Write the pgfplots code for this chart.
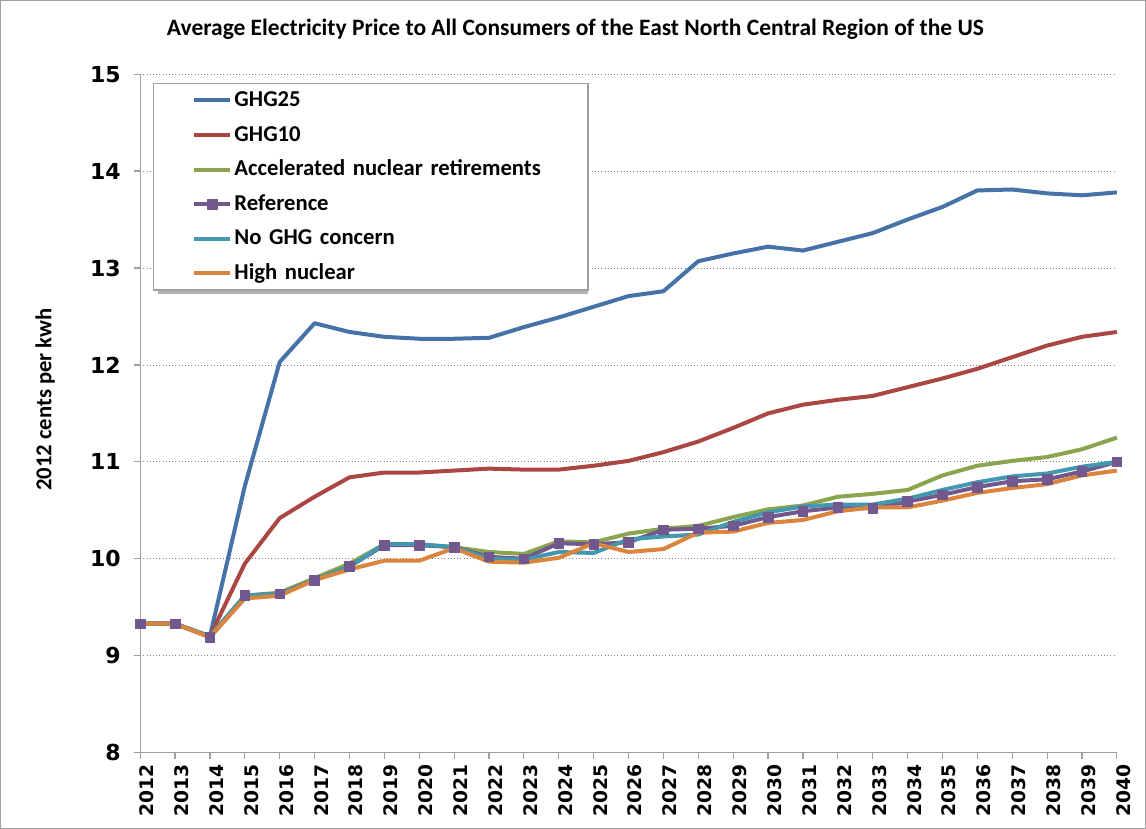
\documentclass[border=0pt]{standalone}
\usepackage{fontspec}
\usepackage{pgfplots}
\pgfplotsset{compat=1.18}
\newfontfamily\calibri{Carlito}
\newfontfamily\verd{DejaVu Sans}
\definecolor{cblue}{RGB}{69,114,167}
\definecolor{cred}{RGB}{170,70,67}
\definecolor{cgreen}{RGB}{137,165,78}
\definecolor{cpurple}{RGB}{113,88,143}
\definecolor{cteal}{RGB}{65,152,175}
\definecolor{corange}{RGB}{219,132,61}
\definecolor{frame}{RGB}{160,160,160}

\pgfplotstableread{
year ghg25 ghg10 accel ref noghg high
2012 9.33 9.33 9.33 9.33 9.33 9.33
2013 9.33 9.33 9.33 9.33 9.33 9.33
2014 9.20 9.20 9.20 9.19 9.20 9.19
2015 10.75 9.95 9.62 9.62 9.62 9.59
2016 12.03 10.42 9.65 9.64 9.64 9.62
2017 12.43 10.64 9.80 9.78 9.78 9.78
2018 12.34 10.84 9.95 9.92 9.92 9.89
2019 12.29 10.89 10.15 10.14 10.15 9.98
2020 12.27 10.89 10.15 10.14 10.15 9.98
2021 12.27 10.91 10.12 10.12 10.12 10.11
2022 12.28 10.93 10.07 10.02 10.00 9.97
2023 12.39 10.92 10.05 10.00 9.99 9.96
2024 12.49 10.92 10.18 10.16 10.07 10.01
2025 12.60 10.96 10.17 10.15 10.06 10.16
2026 12.71 11.01 10.26 10.17 10.20 10.07
2027 12.76 11.10 10.31 10.30 10.23 10.10
2028 13.07 11.21 10.34 10.31 10.25 10.27
2029 13.15 11.35 10.43 10.34 10.38 10.28
2030 13.22 11.50 10.51 10.43 10.48 10.37
2031 13.18 11.59 10.55 10.49 10.54 10.40
2032 13.27 11.64 10.64 10.53 10.56 10.49
2033 13.36 11.68 10.67 10.52 10.56 10.53
2034 13.50 11.77 10.71 10.59 10.62 10.53
2035 13.63 11.86 10.86 10.66 10.71 10.60
2036 13.80 11.96 10.96 10.74 10.79 10.68
2037 13.81 12.08 11.01 10.80 10.85 10.73
2038 13.77 12.20 11.05 10.82 10.88 10.77
2039 13.75 12.29 11.13 10.90 10.95 10.86
2040 13.78 12.34 11.25 11.00 11.00 10.91
}\datatable

\begin{document}
\begin{tikzpicture}
\begin{axis}[
  scale only axis,
  width=732pt, height=508.5pt,
  xmin=2012, xmax=2040, ymin=8, ymax=15,
  xtick={2012,2013,...,2040}, ytick={8,9,...,15},
  axis x line*=bottom, axis y line*=left,
  axis line style={draw=frame, line width=0.9pt},
  tick style={draw=frame, line width=0.9pt},
  tick align=outside, major tick length=5pt,
  ymajorgrids,
  grid style={dotted, draw=gray, line width=0.6pt},
  /pgf/number format/1000 sep={},
  /pgf/number format/assume math mode=true,
  x tick label style={font=\verd\bfseries\fontsize{14}{14}\selectfont, rotate=90, anchor=east, yshift=-5pt},
  y tick label style={font=\verd\bfseries\fontsize{16.5}{16.5}\selectfont, xshift=-6pt},
  clip=false,
  legend cell align=left,
  legend style={at={(axis description cs:0.0133,0.9867)}, anchor=north west,
    draw=frame, line width=0.9pt, fill=white,
    font=\calibri\bfseries\fontsize{17}{17}\selectfont,
    inner xsep=29pt, inner ysep=4.5pt, row sep=9.9pt, column sep=1.5pt,
    nodes={inner sep=0pt, text width=236pt, align=left, text height=12.5pt, text depth=3.5pt}},
  legend image code/.code={\draw[mark repeat=2,mark phase=2,#1] plot coordinates {(0pt,0pt) (13.5pt,0pt) (27pt,0pt)};},
  every axis plot/.append style={line width=3pt, line join=round},
]
\fill[black, opacity=0.3] (axis description cs:0.0180,0.6765) rectangle (axis description cs:0.4586,0.9803);
\addplot[cblue, no markers] table[x=year, y=ghg25] {\datatable};
\addlegendentry{GHG25}
\addplot[cred, no markers] table[x=year, y=ghg10] {\datatable};
\addlegendentry{GHG10}
\addplot[cgreen, no markers] table[x=year, y=accel] {\datatable};
\addlegendentry{Accelerated nuclear retirements}
\addplot[cpurple, mark=square*, mark size=3.6pt, mark options={solid, fill=cpurple, draw=cpurple, line width=0.5pt}] table[x=year, y=ref] {\datatable};
\addlegendentry{Reference}
\addplot[cteal, no markers] table[x=year, y=noghg] {\datatable};
\addlegendentry{No GHG concern}
\addplot[corange, no markers] table[x=year, y=high] {\datatable};
\addlegendentry{High nuclear}

\node[font=\calibri\bfseries\fontsize{17.6}{17.6}\selectfont] at (axis description cs:0.4457,1.0664) {Average Electricity Price to All Consumers of the East North Central Region of the US};
\node[rotate=90, font=\calibri\bfseries\fontsize{17}{17}\selectfont] at (axis description cs:-0.0973,0.5206) {2012 cents per kwh};
\draw[frame, line width=0.9pt] (axis description cs:-0.1429,-0.1114) rectangle (axis description cs:1.0292,1.1084);
\end{axis}
\end{tikzpicture}
\end{document}
